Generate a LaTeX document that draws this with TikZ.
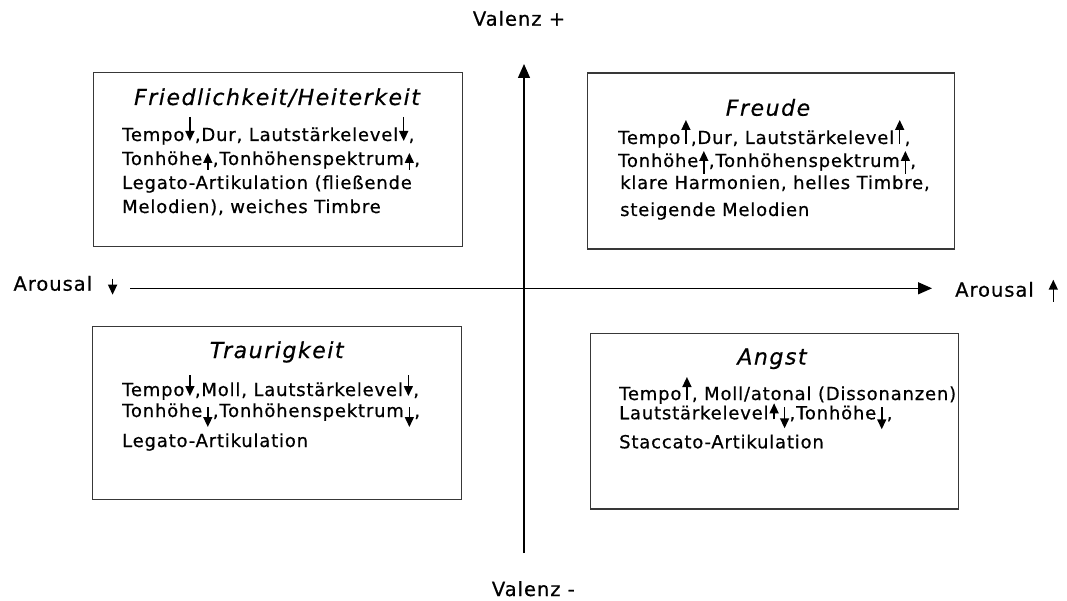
\documentclass[tikz,border=0pt]{standalone}
\usepackage{fontspec}
\setmainfont{DejaVu Sans}[LetterSpace=4.5,FakeBold=0.6]
\newfontfamily\titlefont{DejaVu Sans}[LetterSpace=7,FakeBold=0.6]
\newfontfamily\axisfont{DejaVu Sans}[LetterSpace=5,FakeBold=0.6]
\usetikzlibrary{arrows.meta}

% small inline arrow: stem from #1 pt to #2 pt relative to the baseline
\newcommand\marr[2]{\hspace{1pt}\tikz[baseline=0pt]{\draw[line width=1.5pt,-{Triangle[width=9pt,length=10pt]}] (0pt,#1pt) -- (0pt,#2pt);}\hspace{0.5pt}}

\tikzset{
  quadbox/.style={draw=black!78, line width=1.4pt, anchor=north west, inner sep=0pt},
  quadtitle/.style={font=\titlefont\itshape\fontsize{22}{24}\selectfont, anchor=base, inner sep=0pt},
  bodyline/.style={font=\fontsize{18}{24}\selectfont, anchor=base west, inner sep=0pt},
  axislabel/.style={font=\axisfont\fontsize{19.5}{22}\selectfont, anchor=base west, inner sep=0pt},
  axisline/.style={line width=1.3pt, -{Triangle[width=12pt,length=14pt]}}
}

\begin{document}
\begin{tikzpicture}[x=1pt, y=-1pt]
\useasboundingbox[fill=white] (0,0) rectangle (1067,601);

% axes
\coordinate (hstart) at (130,288.3);
\coordinate (hend) at (932,288.3);
\coordinate (vstart) at (524,553);
\coordinate (vend) at (524,64);
\draw[axisline] (hstart) -- (hend);
\draw[axisline] (vstart) -- (vend);

% axis labels
\node[axislabel] (valpos) at (472.7,25.7) {Valenz +};
\node[axislabel] (valneg) at (491.7,596) {Valenz -};
\node[axislabel] (arlow) at (13.3,290.7) {Arousal\hspace{15pt}\marr{12}{-4}};
\node[axislabel] (arhigh) at (955,296.7) {Arousal\hspace{14pt}\marr{-5}{17}};

% quadrant boxes
\node[quadbox, minimum width=369pt, minimum height=174pt] (bfh) at (93,72) {};
\node[quadbox, minimum width=367pt, minimum height=176pt] (bfr) at (587,72.5) {};
\node[quadbox, minimum width=369pt, minimum height=173pt] (btr) at (92,326) {};
\node[quadbox, minimum width=368pt, minimum height=175.5pt] (ban) at (589.5,332.7) {};

% Friedlichkeit / Heiterkeit
\node[quadtitle] (tfh) at (277,105) {Friedlichkeit/Heiterkeit};
\node[bodyline] (fh1) at (122,141) {Tempo\marr{24}{0},Dur, Lautstärkelevel\marr{24}{0},};
\node[bodyline] (fh2) at (122,165) {Tonhöhe\marr{-5}{12},Tonhöhenspektrum\marr{-5}{12},};
\node[bodyline] (fh3) at (122,189) {Legato-Artikulation (fließende};
\node[bodyline] (fh4) at (122,213) {Melodien), weiches Timbre};

% Freude
\node[quadtitle] (tfr) at (768,115.7) {Freude};
\node[bodyline] (fr1) at (618,144) {Tempo\marr{0}{24},Dur, Lautstärkelevel\marr{0}{24},};
\node[bodyline] (fr2) at (618,167) {Tonhöhe\marr{-7}{16},Tonhöhenspektrum\marr{-7}{16},};
\node[bodyline] (fr3) at (620,189) {klare Harmonien, helles Timbre,};
\node[bodyline] (fr4) at (620,216) {steigende Melodien};

% Traurigkeit
\node[quadtitle] (ttr) at (276.7,358) {Traurigkeit};
\node[bodyline] (tr1) at (122,396) {Tempo\marr{21}{0},Moll, Lautstärkelevel\marr{21}{0},};
\node[bodyline] (tr2) at (122,417) {Tonhöhe\marr{10}{-10},Tonhöhenspektrum\marr{10}{-10},};
\node[bodyline] (tr3) at (122,447) {Legato-Artikulation};

% Angst
\node[quadtitle] (tan) at (772,364.5) {Angst};
\node[bodyline] (an1) at (619,400) {Tempo\marr{0}{23}, Moll/atonal (Dissonanzen)};
\node[bodyline] (an2) at (619,419.3) {Lautstärkelevel\marr{0}{16}\marr{12}{-9},Tonhöhe\marr{12}{-10},};
\node[bodyline] (an3) at (619,448.3) {Staccato-Artikulation};
\end{tikzpicture}
\end{document}
